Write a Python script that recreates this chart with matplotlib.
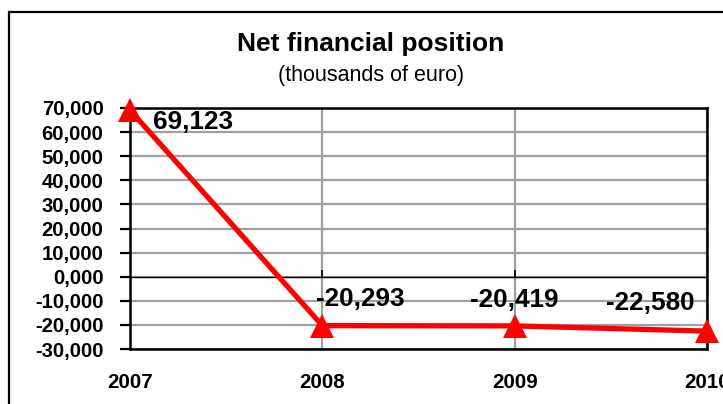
import matplotlib
matplotlib.use('Agg')
import matplotlib.pyplot as plt
from matplotlib.patches import Rectangle
from matplotlib.markers import TICKUP

# data
years = ['2007', '2008', '2009', '2010']
values = [69123, -20293, -20419, -22580]
y_ticks = [-30000, -20000, -10000, 0, 10000, 20000, 30000, 40000, 50000, 60000, 70000]
y_tick_labels = ['-30,000', '-20,000', '-10,000', '0,000', '10,000', '20,000',
                 '30,000', '40,000', '50,000', '60,000', '70,000']

plt.rcParams['font.family'] = ['Liberation Sans', 'DejaVu Sans']

W, H = 723, 404
fig = plt.figure(figsize=(W / 100, H / 100), dpi=100, facecolor='white')

# outer chart frame (runs off the right and bottom edge)
fig.patches.append(Rectangle((9 / W, -0.1), 1.2, (H - 12) / H + 0.1,
                             transform=fig.transFigure, fill=False,
                             edgecolor='black', linewidth=1.6))

ax = fig.add_axes([130 / W, 1 - 349 / H, (707 - 130) / W, (349 - 108) / H])

x = list(range(len(years)))
ax.plot(x, values, color='#FF0000', linewidth=3.8, marker='^',
        markersize=17, markeredgewidth=0, zorder=5, clip_on=False)

ax.set_xlim(0, len(years) - 1)
ax.set_ylim(y_ticks[0], y_ticks[-1])

# grid
ax.set_yticks(y_ticks)
ax.set_yticklabels(y_tick_labels, fontsize=14.6, fontweight='bold')
ax.set_xticks(x)
ax.set_xticklabels(years, fontsize=14.8, fontweight='bold')
ax.grid(True, color='#A0A0A0', linewidth=1.6, zorder=0)
ax.set_axisbelow(True)
ax.tick_params(axis='y', direction='out', length=7, width=1.6, pad=12)
ax.tick_params(axis='x', length=0, pad=17)
for s in ax.spines.values():
    s.set_linewidth(1.8)
    s.set_color('black')

# category axis crossing at zero, with small tick marks
ax.axhline(0, color='black', linewidth=1.0, zorder=1)
ax.plot(x[1:-1], [0] * (len(x) - 2), linestyle='none', marker=TICKUP,
        markersize=5, markeredgewidth=1.2, color='black', zorder=1)

# data labels
offsets = [(23, -12, 'left'), (38, 27, 'center'), (0, 26, 'center'), (-57, 28, 'center')]
for xi, v, (dx, dy, ha) in zip(x, values, offsets):
    ax.annotate(f'{v:,}', (xi, v), xytext=(dx, dy), textcoords='offset pixels',
                ha=ha, va='center', fontsize=18.8, fontweight='bold',
                annotation_clip=False, zorder=6)

fig.text(371 / W, 1 - 44 / H, 'Net financial position', ha='center', va='center',
         fontsize=19, fontweight='bold')
fig.text(371 / W, 1 - 75 / H, '(thousands of euro)', ha='center', va='center',
         fontsize=15.5)

fig.savefig('out.png', dpi=100)
